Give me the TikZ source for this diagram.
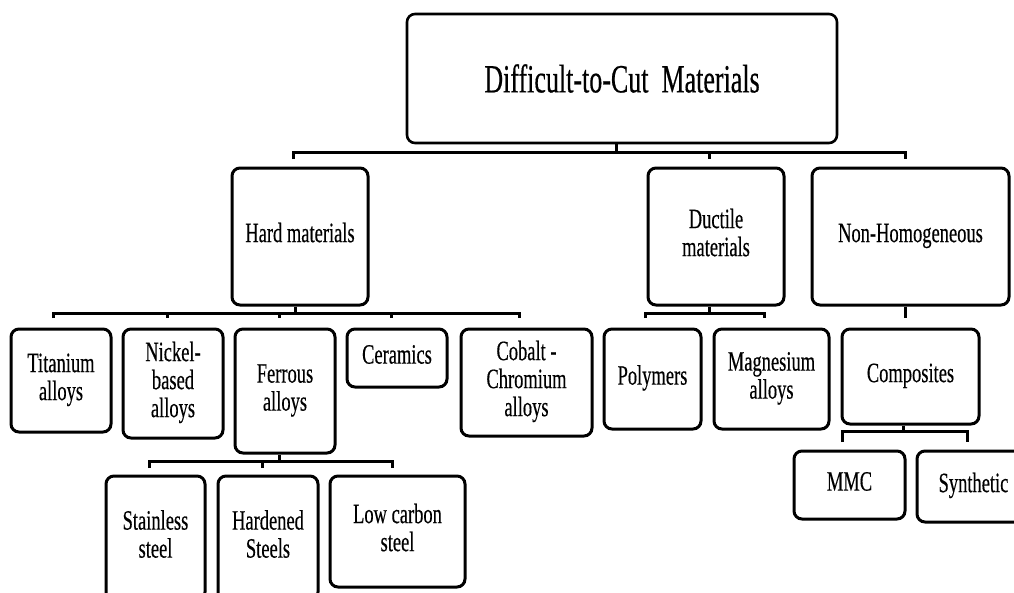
\documentclass[tikz,border=0pt]{standalone}
\usepackage{fontspec}
\setmainfont{Liberation Serif}
\newfontfamily\heavy[FakeBold=0.5]{Liberation Serif}
\usepackage{graphicx}
\tikzset{
  box/.style={draw, line width=3pt, rounded corners=8pt, inner sep=0pt, align=center,
    font=\heavy\fontsize{28}{28}\selectfont},
  conn/.style={line width=3pt},
}
\newcommand\tx[1]{\scalebox{0.66}[1]{\begin{tabular}{@{}c@{}}#1\end{tabular}}}
\newcommand\bx[6]{\node[box, minimum width={(#4-#2)*1pt}, minimum height={(#5-#3)*1pt}] (#1) at ({(#2+#4)/2},{(#3+#5)/2}) {\tx{#6}};}
\begin{document}
\begin{tikzpicture}[x=1pt,y=-1pt]
\useasboundingbox (0,0) rectangle (1014,592);
\clip (0,0) rectangle (1014,592);
% root
\node[box, line width=2.6pt, minimum width=430pt, minimum height=129pt,
  font=\heavy\fontsize{40}{40}\selectfont] (top) at (622,78.5)
  {\scalebox{0.65}[1]{Difficult-to-Cut~ Materials}};
% level 1
\bx{hard}{232}{168}{368}{305}{Hard materials}
\bx{ductile}{648}{168}{784}{305}{Ductile\\materials}
\bx{nonhom}{812}{168}{1009}{305}{Non-Homogeneous}
% level 2
\bx{titan}{11}{329}{111}{432}{Titanium\\alloys}
\bx{nickel}{123}{329}{223}{438}{Nickel-\\based\\alloys}
\bx{ferrous}{235}{329}{335}{453}{Ferrous\\alloys}
\bx{ceram}{347}{329}{447}{387}{Ceramics}
\bx{cobalt}{461}{329}{592}{436}{Cobalt -\\Chromium\\alloys}
\bx{polym}{604}{329}{701}{429}{Polymers}
\bx{magnes}{714}{329}{829}{429}{Magnesium\\alloys}
\bx{compos}{842}{329}{979}{424}{Composites}
% level 3
\bx{stain}{106}{476}{205}{600}{Stainless\\steel}
\bx{harden}{218}{476}{318}{600}{Hardened\\Steels}
\bx{lowc}{330}{476}{465}{587}{Low carbon\\steel}
\bx{mmc}{794}{451}{905}{519}{MMC}
\bx{synth}{917}{451}{1030}{522}{Synthetic}
% bus coordinates
\coordinate (r0) at (616,152);
\coordinate (h0) at (295,313);
\coordinate (f0) at (279,461);
\coordinate (d0) at (709,313);
\coordinate (n0) at (905,318);
\coordinate (c0) at (903,431);
% root bus
\draw[conn] (top.south -| r0) -- (r0);
\draw[conn] (293,159) -- (293,152) -- (905,152) -- (905,159);
\draw[conn] (709,152) -- (709,159);
% hard bus
\draw[conn] (hard.south -| h0) -- (h0);
\draw[conn] (53,318) -- (53,313) -- (519,313) -- (519,318);
\foreach \x in {167,279,391} \draw[conn] (\x,313) -- (\x,318);
% ferrous bus
\draw[conn] (ferrous.south -| f0) -- (f0);
\draw[conn] (149,468) -- (149,461) -- (392,461) -- (392,468);
\draw[conn] (262,461) -- (262,468);
% ductile bus
\draw[conn] (ductile.south -| d0) -- (d0);
\draw[conn] (645,318) -- (645,313) -- (764,313) -- (764,318);
% non-homogeneous
\draw[conn] (nonhom.south -| n0) -- (n0);
% composites bus
\draw[conn] (compos.south -| c0) -- (c0);
\draw[conn] (842,442) -- (842,431) -- (967,431) -- (967,442);
\end{tikzpicture}
\end{document}
